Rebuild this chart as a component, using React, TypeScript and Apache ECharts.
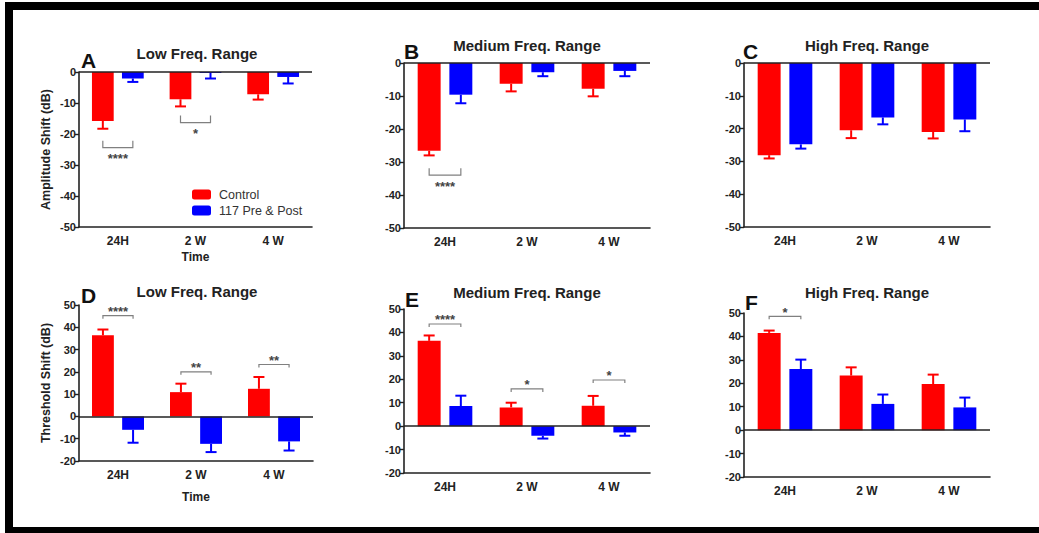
import React, { useEffect, useRef } from 'react';
import * as echarts from 'echarts';

const FONT = '"Liberation Sans", Arial, Helvetica, sans-serif';

const categories = ['24H', '2 W', '4 W'];
const seriesNames = ['Control', '117 Pre & Post'];
const seriesColors = ['#FF0000', '#0000FF'];
const panelLetters = ['A', 'B', 'C', 'D', 'E', 'F'];
const panelTitles = ['Low Freq. Range', 'Medium Freq. Range', 'High Freq. Range', 'Low Freq. Range', 'Medium Freq. Range', 'High Freq. Range'];

// Amplitude shift (dB): mean and end of error bar
const ampLowControl = [-15.8, -8.8, -7.2];
const ampLowControlErr = [-18.3, -11.1, -8.9];
const ampLowDrug = [-2.1, -0.3, -1.6];
const ampLowDrugErr = [-3.2, -2.1, -3.7];
const ampMedControl = [-26.6, -6.3, -7.8];
const ampMedControlErr = [-28.0, -8.6, -10.1];
const ampMedDrug = [-9.6, -2.8, -2.4];
const ampMedDrugErr = [-12.2, -4.0, -4.0];
const ampHighControl = [-28.1, -20.5, -21.0];
const ampHighControlErr = [-29.1, -22.9, -23.0];
const ampHighDrug = [-24.8, -16.6, -17.2];
const ampHighDrugErr = [-26.1, -18.7, -20.8];

// Threshold shift (dB): mean and end of error bar
const thrLowControl = [36.4, 10.9, 12.4];
const thrLowControlErr = [39.0, 14.7, 17.7];
const thrLowDrug = [-6.0, -12.3, -11.2];
const thrLowDrugErr = [-11.8, -16.0, -15.3];
const thrMedControl = [36.4, 8.0, 8.7];
const thrMedControlErr = [38.7, 10.0, 12.9];
const thrMedDrug = [8.6, -4.1, -2.7];
const thrMedDrugErr = [13.0, -5.3, -4.1];
const thrHighControl = [41.5, 23.3, 19.7];
const thrHighControlErr = [42.5, 26.8, 23.7];
const thrHighDrug = [26.1, 11.2, 9.7];
const thrHighDrugErr = [30.1, 15.2, 13.9];

// significance brackets: [category index, bracket level (dB), label]
const sigA: [number, number, string][] = [[0, -24.4, '****'], [1, -16.3, '*']];
const sigB: [number, number, string][] = [[0, -34.0, '****']];
const sigC: [number, number, string][] = [];
const sigD: [number, number, string][] = [[0, 45.2, '****'], [1, 20.0, '**'], [2, 23.3, '**']];
const sigE: [number, number, string][] = [[0, 43.6, '****'], [1, 15.9, '*'], [2, 19.7, '*']];
const sigF: [number, number, string][] = [[0, 48.6, '*']];

// axis ranges: [min, max, interval]
const ampAxis = [-50, 0, 10];
const thrAxis = [-20, 50, 10];
const ampAxisName = 'Amplitude Shift (dB)';
const thrAxisName = 'Threshold Shift (dB)';
const timeAxisName = 'Time';

const BAR_FRAC = 0.28;
const BAR_GAP = 0.38;

const panels = [
  { c: ampLowControl, ce: ampLowControlErr, d: ampLowDrug, de: ampLowDrugErr, sig: sigA, axis: ampAxis, yName: ampAxisName, xName: timeAxisName, xNameGap: 24 },
  { c: ampMedControl, ce: ampMedControlErr, d: ampMedDrug, de: ampMedDrugErr, sig: sigB, axis: ampAxis, yName: '', xName: '', xNameGap: 0 },
  { c: ampHighControl, ce: ampHighControlErr, d: ampHighDrug, de: ampHighDrugErr, sig: sigC, axis: ampAxis, yName: '', xName: '', xNameGap: 0 },
  { c: thrLowControl, ce: thrLowControlErr, d: thrLowDrug, de: thrLowDrugErr, sig: sigD, axis: thrAxis, yName: thrAxisName, xName: timeAxisName, xNameGap: 30 },
  { c: thrMedControl, ce: thrMedControlErr, d: thrMedDrug, de: thrMedDrugErr, sig: sigE, axis: thrAxis, yName: '', xName: '', xNameGap: 0 },
  { c: thrHighControl, ce: thrHighControlErr, d: thrHighDrug, de: thrHighDrugErr, sig: sigF, axis: thrAxis, yName: '', xName: '', xNameGap: 0 },
];

const gridBoxes = [
  { left: 79, top: 72, width: 233, height: 155 },
  { left: 404, top: 63, width: 246, height: 165 },
  { left: 744, top: 63, width: 246, height: 164 },
  { left: 79, top: 305, width: 234, height: 156 },
  { left: 404, top: 309, width: 246, height: 164 },
  { left: 744, top: 313, width: 246, height: 164 },
];

const titlePos = [
  [197, 53], [527, 45], [867, 45], [197, 291], [527, 292], [867, 292],
];
const letterPos = [
  [81, 60], [404, 51], [743, 51], [81, 295], [405, 299], [745, 302],
];

function buildOption() {
  const grid: any[] = [];
  const xAxis: any[] = [];
  const yAxis: any[] = [];
  const series: any[] = [];

  panels.forEach((p, i) => {
    grid.push({ ...gridBoxes[i], containLabel: false });
    xAxis.push({
      type: 'category',
      gridIndex: i,
      data: categories,
      position: 'bottom',
      name: p.xName,
      nameLocation: 'middle',
      nameGap: p.xNameGap,
      nameTextStyle: { fontFamily: FONT, fontWeight: 'bold', fontSize: 12, color: '#222' },
      axisLine: { onZero: false, lineStyle: { color: '#222', width: 1.6 } },
      axisTick: { alignWithLabel: true, length: 4, lineStyle: { color: '#222', width: 1.4 } },
      axisLabel: { fontFamily: FONT, fontWeight: 'bold', fontSize: 12, color: '#222', margin: 8 },
      splitLine: { show: false },
    });
    yAxis.push({
      type: 'value',
      gridIndex: i,
      min: p.axis[0],
      max: p.axis[1],
      interval: p.axis[2],
      name: p.yName,
      nameLocation: 'middle',
      nameRotate: 90,
      nameGap: 27,
      nameTextStyle: { fontFamily: FONT, fontWeight: 'bold', fontSize: 12.5, color: '#222' },
      axisLine: { show: true, onZero: false, lineStyle: { color: '#222', width: 1.6 } },
      axisTick: { show: true, length: 4, lineStyle: { color: '#222', width: 1.4 } },
      axisLabel: { fontFamily: FONT, fontWeight: 'bold', fontSize: 11, color: '#222', margin: 3 },
      splitLine: { show: false },
    });

    const groups = [
      { v: p.c, e: p.ce },
      { v: p.d, e: p.de },
    ];
    groups.forEach((g, s) => {
      series.push({
        type: 'bar',
        name: seriesNames[s],
        xAxisIndex: i,
        yAxisIndex: i,
        data: g.v,
        barWidth: (BAR_FRAC * 100) + '%',
        barGap: (BAR_GAP * 100) + '%',
        itemStyle: { color: seriesColors[s] },
        markLine: s === 0 ? {
          silent: true,
          symbol: ['none', 'none'],
          label: { show: false },
          lineStyle: { color: '#222', width: 1.6, type: 'solid' },
          data: [{ yAxis: 0 }],
          z: 5,
        } : undefined,
      });
    });

    groups.forEach((g, s) => {
      series.push({
        type: 'custom',
        xAxisIndex: i,
        yAxisIndex: i,
        silent: true,
        z: 4,
        encode: { x: 0, y: [1, 2] },
        data: g.v.map((v, k) => [k, v, g.e[k]]),
        renderItem: (params: any, api: any) => {
          const cat = api.value(0);
          const v = api.value(1);
          const e = api.value(2);
          const band = api.size([1, 0])[0];
          const bw = band * BAR_FRAC;
          const off = ((bw + bw * BAR_GAP) / 2) * (s === 0 ? -1 : 1);
          const p1 = api.coord([cat, v]);
          const p2 = api.coord([cat, e]);
          const x = p1[0] + off;
          const cap = 5.5;
          const st = { stroke: seriesColors[s], lineWidth: 2 };
          return {
            type: 'group',
            children: [
              { type: 'line', shape: { x1: x, y1: p1[1], x2: x, y2: p2[1] }, style: st },
              { type: 'line', shape: { x1: x - cap, y1: p2[1], x2: x + cap, y2: p2[1] }, style: st },
            ],
          };
        },
      });
    });

    if (p.sig.length) {
      const below = p.axis[1] <= 0;
      const labels = p.sig.map((q) => q[2]);
      series.push({
        type: 'custom',
        xAxisIndex: i,
        yAxisIndex: i,
        silent: true,
        z: 4,
        encode: { x: 0, y: 1 },
        data: p.sig.map((q) => [q[0], q[1]]),
        renderItem: (params: any, api: any) => {
          const cat = api.value(0);
          const y = api.value(1);
          const band = api.size([1, 0])[0];
          const bw = band * BAR_FRAC;
          const off = (bw + bw * BAR_GAP) / 2;
          const pt = api.coord([cat, y]);
          const x1 = pt[0] - off;
          const x2 = pt[0] + off;
          const yy = pt[1];
          const tick = below ? -7 : 3;
          const textY = below ? yy + 11 : yy - 4;
          return {
            type: 'group',
            children: [
              {
                type: 'polyline',
                shape: { points: [[x1, yy + tick], [x1, yy], [x2, yy], [x2, yy + tick]] },
                style: { stroke: '#808080', lineWidth: 1.2, fill: 'none' },
              },
              {
                type: 'text',
                style: {
                  text: labels[params.dataIndex],
                  x: (x1 + x2) / 2,
                  y: textY,
                  align: 'center',
                  verticalAlign: 'middle',
                  font: 'bold 13px ' + FONT,
                  fill: '#444',
                },
              },
            ],
          };
        },
      });
    }
  });

  const graphic: any[] = [
    { type: 'rect', shape: { x: 5, y: 2, width: 1034, height: 8 }, style: { fill: '#000' } },
    { type: 'rect', shape: { x: 5, y: 2, width: 8, height: 531 }, style: { fill: '#000' } },
    { type: 'rect', shape: { x: 5, y: 527, width: 1034, height: 6 }, style: { fill: '#000' } },
  ];
  panelTitles.forEach((t, i) => {
    graphic.push({
      type: 'text',
      x: titlePos[i][0],
      y: titlePos[i][1],
      style: { text: t, align: 'center', verticalAlign: 'middle', font: 'bold 15px ' + FONT, fill: '#222' },
    });
    graphic.push({
      type: 'text',
      x: letterPos[i][0],
      y: letterPos[i][1],
      style: { text: panelLetters[i], align: 'left', verticalAlign: 'middle', font: 'bold 21px ' + FONT, fill: '#111' },
    });
  });

  return {
    animation: false,
    backgroundColor: '#fff',
    grid,
    xAxis,
    yAxis,
    series,
    graphic,
    legend: {
      left: 192,
      top: 188,
      padding: 0,
      orient: 'vertical',
      icon: 'roundRect',
      itemWidth: 19,
      itemHeight: 10,
      itemGap: 3,
      data: seriesNames,
      selectedMode: false,
      textStyle: { fontFamily: FONT, fontSize: 12.5, color: '#333', padding: [0, 0, 0, 3] },
    },
  };
}

export default function App() {
  const ref = useRef<HTMLDivElement>(null);
  useEffect(() => {
    if (!ref.current) return;
    const chart = echarts.init(ref.current, null, { renderer: 'svg' });
    chart.setOption(buildOption() as any);
    return () => chart.dispose();
  }, []);
  return (
    <div
      ref={ref}
      style={{ position: 'fixed', left: 0, top: 0, width: 1039, height: 533, background: '#fff' }}
    />
  );
}
